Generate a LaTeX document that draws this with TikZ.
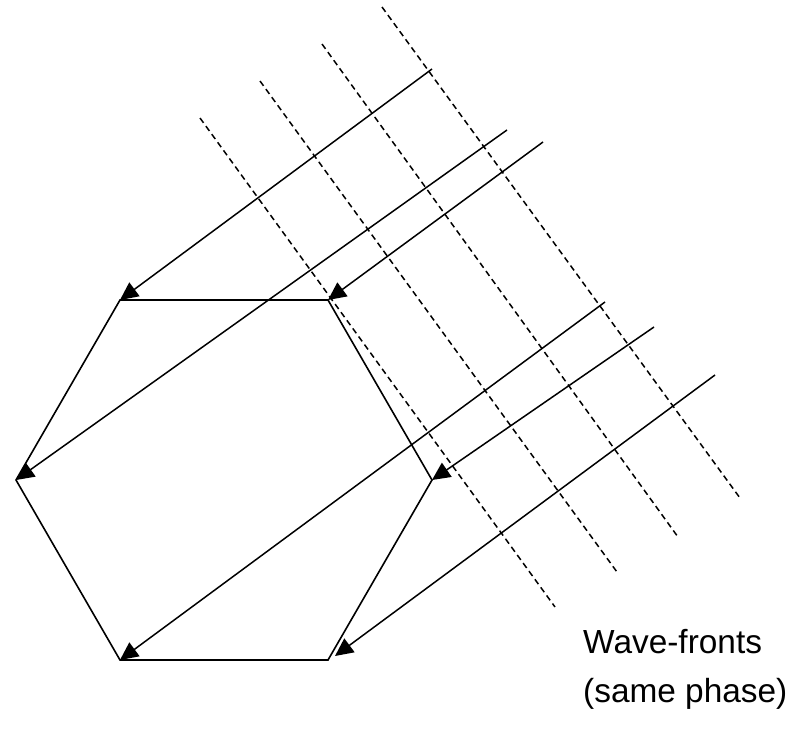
\documentclass[tikz,border=0pt]{standalone}
\usepackage{fontspec}
\setmainfont{Liberation Sans}
\usetikzlibrary{arrows.meta}
\begin{document}
\begin{tikzpicture}[x=1pt,y=-1pt,
  edge/.style={line width=1.6pt, line join=miter},
  ray/.style={line width=1.5pt, -{Triangle[length=18pt,width=17pt]}},
  front/.style={line width=1.5pt, dash pattern=on 6pt off 4pt},
  lbl/.style={font=\fontsize{33.4}{40}\selectfont, anchor=base west, inner sep=0pt}]
\useasboundingbox (0,0) rectangle (800,728);
% hexagon vertices
\coordinate (TL) at (120,300);
\coordinate (TR) at (328,300);
\coordinate (R)  at (432,480);
\coordinate (BR) at (328,660);
\coordinate (BL) at (120,660);
\coordinate (L)  at (16,480);
\coordinate (BRtip) at (335,656);
\draw[edge] (TL) -- (TR) -- (R) -- (BR) -- (BL) -- (L) -- cycle;
% wave-fronts
\coordinate (f1a) at (200,118); \coordinate (f1b) at (555,607);
\coordinate (f2a) at (260,81);  \coordinate (f2b) at (617,572);
\coordinate (f3a) at (322,44);  \coordinate (f3b) at (678,537);
\coordinate (f4a) at (382,7);   \coordinate (f4b) at (740,498);
\draw[front] (f1a) -- (f1b);
\draw[front] (f2a) -- (f2b);
\draw[front] (f3a) -- (f3b);
\draw[front] (f4a) -- (f4b);
% rays
\coordinate (sA) at (432,69);
\coordinate (sB) at (507,130);
\coordinate (sC) at (543,142);
\coordinate (sD) at (605,302);
\coordinate (sE) at (654,327);
\coordinate (sF) at (715,375);
\draw[ray] (sA) -- (TL);
\draw[ray] (sB) -- (L);
\draw[ray] (sC) -- (TR);
\draw[ray] (sD) -- (BL);
\draw[ray] (sE) -- (R);
\draw[ray] (sF) -- (BRtip);
% label
\node[lbl] (t1) at (583,653) {Wave-fronts};
\node[lbl] (t2) at (583,702) {(same phase)};
\end{tikzpicture}
\end{document}
